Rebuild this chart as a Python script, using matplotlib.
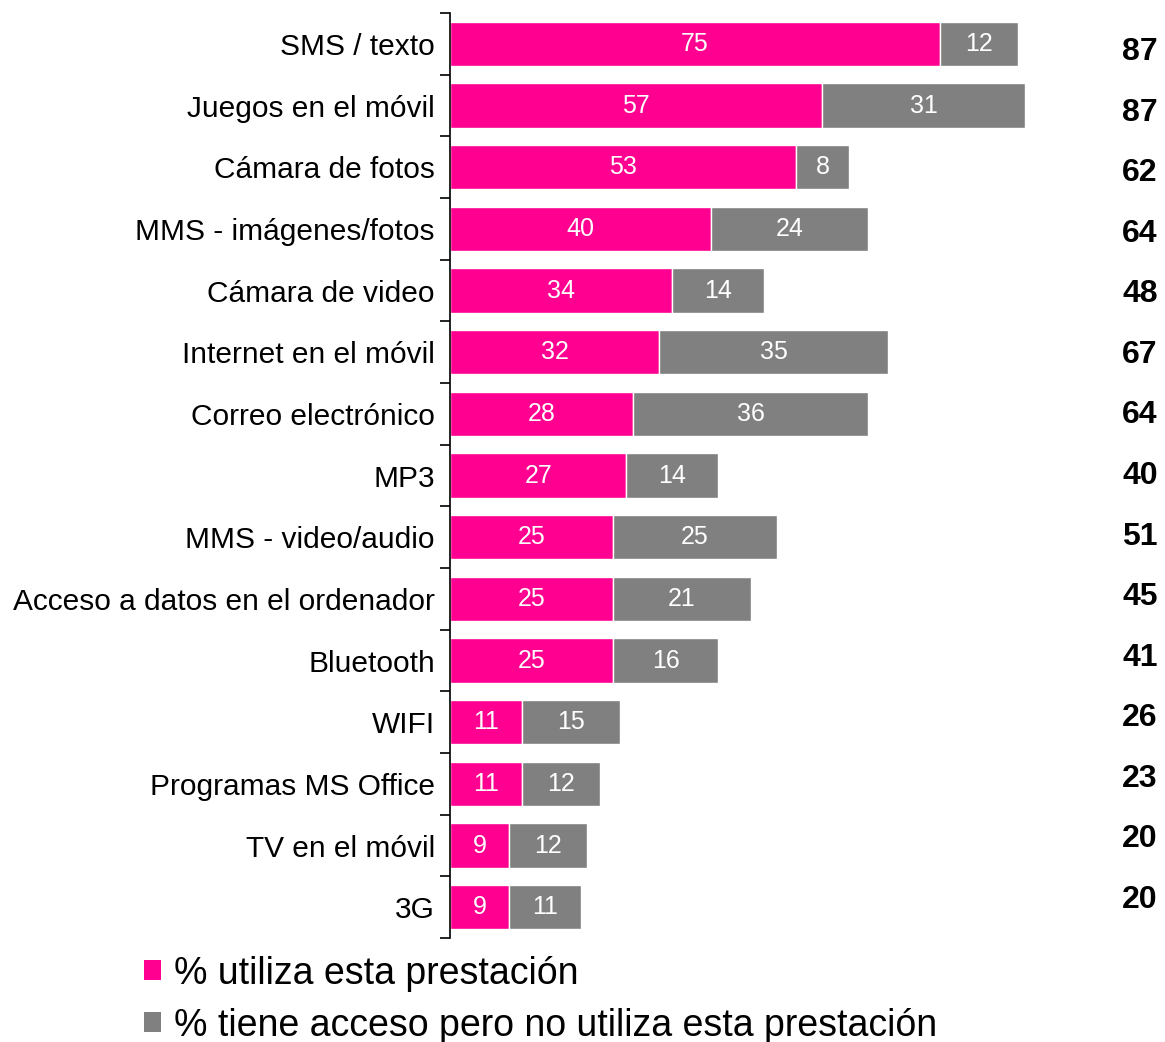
import matplotlib
matplotlib.use("Agg")
import matplotlib.pyplot as plt
from matplotlib.patches import Patch

plt.rcParams['font.family'] = ['Liberation Sans', 'DejaVu Sans']

categories = ["SMS / texto", "Juegos en el móvil", "Cámara de fotos", "MMS - imágenes/fotos",
              "Cámara de video", "Internet en el móvil", "Correo electrónico", "MP3",
              "MMS - video/audio", "Acceso a datos en el ordenador", "Bluetooth", "WIFI",
              "Programas MS Office", "TV en el móvil", "3G"]
uses = [75, 57, 53, 40, 34, 32, 28, 27, 25, 25, 25, 11, 11, 9, 9]
access_not_used = [12, 31, 8, 24, 14, 35, 36, 14, 25, 21, 16, 15, 12, 12, 11]
totals = [87, 87, 62, 64, 48, 67, 64, 40, 51, 45, 41, 26, 23, 20, 20]
legend_labels = ["% utiliza esta prestación", "% tiene acceso pero no utiliza esta prestación"]

pink = "#FF0090"
gray = "#808080"

fig = plt.figure(figsize=(11.65, 10.42), dpi=100)
ax = fig.add_axes([0.3863, 0.0998, 0.5608, 0.8877])

y = list(range(len(categories)))
ax.barh(y, uses, height=0.72, color=pink, edgecolor="white", linewidth=1)
ax.barh(y, access_not_used, left=uses, height=0.72, color=gray, edgecolor="white", linewidth=1)

for i in y:
    ax.text(uses[i] / 2, i, str(uses[i]), ha="center", va="center", color="white", fontsize=18)
    ax.text(uses[i] + access_not_used[i] / 2, i, str(access_not_used[i]), ha="center", va="center",
            color="white", fontsize=18)

ax.set_xlim(0, 100)
ax.set_ylim(len(categories) - 0.5, -0.5)

for s in ["top", "right", "bottom"]:
    ax.spines[s].set_visible(False)
ax.spines["left"].set_color("black")
ax.spines["left"].set_linewidth(1.2)
ax.set_xticks([])

ax.set_yticks([i - 0.5 for i in range(len(categories) + 1)])
ax.set_yticklabels([])
ax.tick_params(axis="y", which="major", direction="out", length=7, width=1.2)
ax.set_yticks(y, minor=True)
ax.set_yticklabels(categories, minor=True, fontsize=21.5)
ax.tick_params(axis="y", which="minor", length=0, pad=11)

# totals on a twin axis (slightly different vertical spacing as in the reference)
ax2 = ax.twinx()
ax2.set_ylim(14.627, -0.644)
ax2.set_xlim(0, 100)
ax2.axis("off")
for i, t in enumerate(totals):
    ax2.text(105.6, i, str(t), ha="center", va="center", fontsize=23, fontweight="bold", clip_on=False)

handles = [Patch(facecolor=pink), Patch(facecolor=gray)]
fig.legend(handles, legend_labels, loc="upper left", bbox_to_anchor=(0.124, 0.083), frameon=False,
           fontsize=27, handlelength=0.45, handleheight=0.45, handletextpad=0.35, labelspacing=0.43,
           borderaxespad=0, borderpad=0)

fig.savefig("out.png", dpi=100)
